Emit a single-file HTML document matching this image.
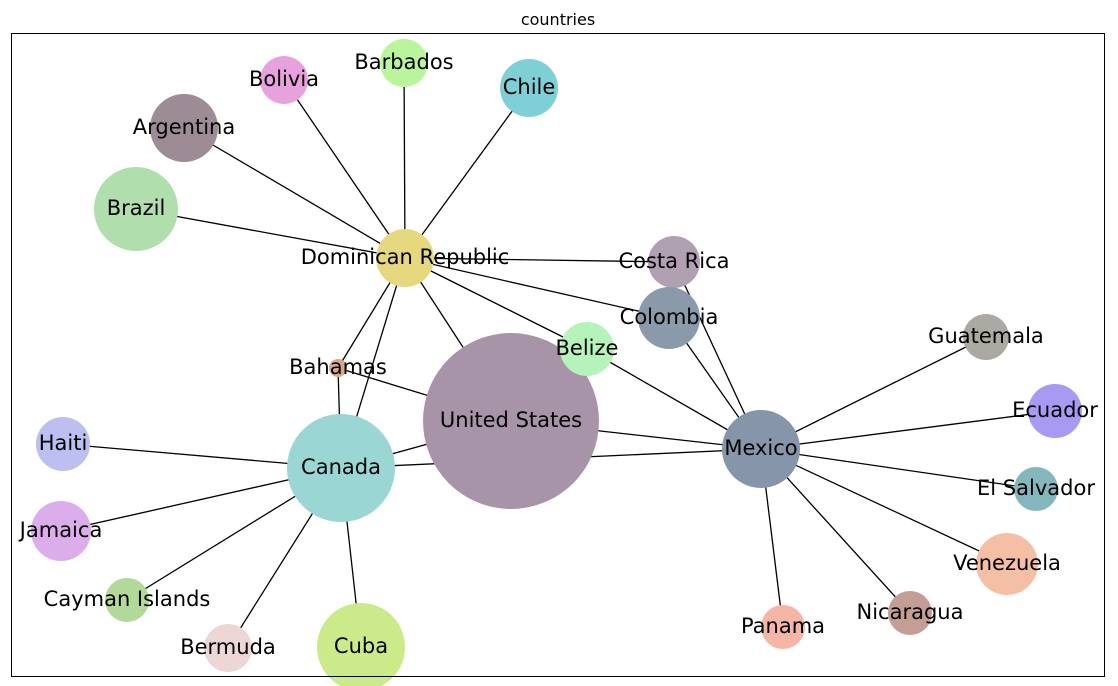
<!DOCTYPE html>
<html><head><meta charset="utf-8"><style>
html,body{margin:0;padding:0;background:#fff;}
svg{display:block;}
text{font-family:"DejaVu Sans","Liberation Sans",sans-serif;}
</style></head><body>
<svg width="1118" height="686" viewBox="0 0 1118 686" xmlns="http://www.w3.org/2000/svg">
<rect x="0" y="0" width="1118" height="686" fill="#fff"/>
<text x="558" y="25" font-size="16" text-anchor="middle">countries</text>
<g stroke="#000" stroke-width="1.3">
<line x1="405" y1="258" x2="284" y2="80"/>
<line x1="405" y1="258" x2="404" y2="63"/>
<line x1="405" y1="258" x2="529" y2="88"/>
<line x1="405" y1="258" x2="184" y2="128"/>
<line x1="405" y1="258" x2="136" y2="209"/>
<line x1="405" y1="258" x2="674" y2="262"/>
<line x1="405" y1="258" x2="669" y2="318"/>
<line x1="405" y1="258" x2="587" y2="349"/>
<line x1="405" y1="258" x2="511" y2="421"/>
<line x1="405" y1="258" x2="338" y2="368"/>
<line x1="405" y1="258" x2="341" y2="468"/>
<line x1="338" y1="368" x2="341" y2="468"/>
<line x1="338" y1="368" x2="511" y2="421"/>
<line x1="341" y1="468" x2="511" y2="421"/>
<line x1="341" y1="468" x2="761" y2="449"/>
<line x1="341" y1="468" x2="63" y2="444"/>
<line x1="341" y1="468" x2="61" y2="531"/>
<line x1="341" y1="468" x2="127" y2="600"/>
<line x1="341" y1="468" x2="228" y2="648"/>
<line x1="341" y1="468" x2="361" y2="647"/>
<line x1="511" y1="421" x2="761" y2="449"/>
<line x1="761" y1="449" x2="669" y2="318"/>
<line x1="761" y1="449" x2="674" y2="262"/>
<line x1="761" y1="449" x2="587" y2="349"/>
<line x1="761" y1="449" x2="986" y2="337"/>
<line x1="761" y1="449" x2="1055" y2="411"/>
<line x1="761" y1="449" x2="1036" y2="489"/>
<line x1="761" y1="449" x2="1007" y2="564"/>
<line x1="761" y1="449" x2="910" y2="613"/>
<line x1="761" y1="449" x2="783" y2="627"/>
</g>
<g>
<circle cx="511" cy="421" r="88" fill="#a794a8"/>
<circle cx="341" cy="468" r="54" fill="#9ad6d3"/>
<circle cx="761" cy="449" r="39" fill="#8795ab"/>
<circle cx="405" cy="258" r="29" fill="#e5d87f"/>
<circle cx="361" cy="647" r="44" fill="#cbea8a"/>
<circle cx="136" cy="209" r="42" fill="#b0dfad"/>
<circle cx="184" cy="128" r="34" fill="#9d8b95"/>
<circle cx="284" cy="80" r="24" fill="#e7a2dd"/>
<circle cx="404" cy="63" r="24" fill="#bbf59b"/>
<circle cx="529" cy="88" r="29" fill="#7ed0d6"/>
<circle cx="674" cy="262" r="26" fill="#b0a0b2"/>
<circle cx="669" cy="318" r="31" fill="#8a9aab"/>
<circle cx="587" cy="349" r="27" fill="#b5f3bb"/>
<circle cx="338" cy="368" r="9" fill="#d8a88e"/>
<circle cx="63" cy="444" r="27" fill="#bcbff0"/>
<circle cx="61" cy="531" r="30" fill="#dbadea"/>
<circle cx="127" cy="600" r="22" fill="#b3d99a"/>
<circle cx="228" cy="648" r="24" fill="#ecd6d6"/>
<circle cx="783" cy="627" r="22" fill="#f5b6a6"/>
<circle cx="910" cy="613" r="22" fill="#c49d95"/>
<circle cx="1007" cy="564" r="31" fill="#f5bfa5"/>
<circle cx="1036" cy="489" r="22" fill="#84b6bd"/>
<circle cx="1055" cy="411" r="27" fill="#a899f2"/>
<circle cx="986" cy="337" r="23" fill="#aca8a2"/>
</g>
<g font-size="21" text-anchor="middle" dominant-baseline="central" fill="#000">
<text x="511" y="420">United States</text>
<text x="341" y="467">Canada</text>
<text x="761" y="448">Mexico</text>
<text x="405" y="257">Dominican Republic</text>
<text x="361" y="646">Cuba</text>
<text x="136" y="208">Brazil</text>
<text x="184" y="127">Argentina</text>
<text x="284" y="79">Bolivia</text>
<text x="404" y="62">Barbados</text>
<text x="529" y="87">Chile</text>
<text x="674" y="261">Costa Rica</text>
<text x="669" y="317">Colombia</text>
<text x="587" y="348">Belize</text>
<text x="338" y="367">Bahamas</text>
<text x="63" y="443">Haiti</text>
<text x="61" y="530">Jamaica</text>
<text x="127" y="599">Cayman Islands</text>
<text x="228" y="647">Bermuda</text>
<text x="783" y="626">Panama</text>
<text x="910" y="612">Nicaragua</text>
<text x="1007" y="563">Venezuela</text>
<text x="1036" y="488">El Salvador</text>
<text x="1055" y="410">Ecuador</text>
<text x="986" y="336">Guatemala</text>
</g>
<rect x="11.5" y="33.5" width="1093" height="643" fill="none" stroke="#000" stroke-width="1"/>
</svg>
</body></html>
